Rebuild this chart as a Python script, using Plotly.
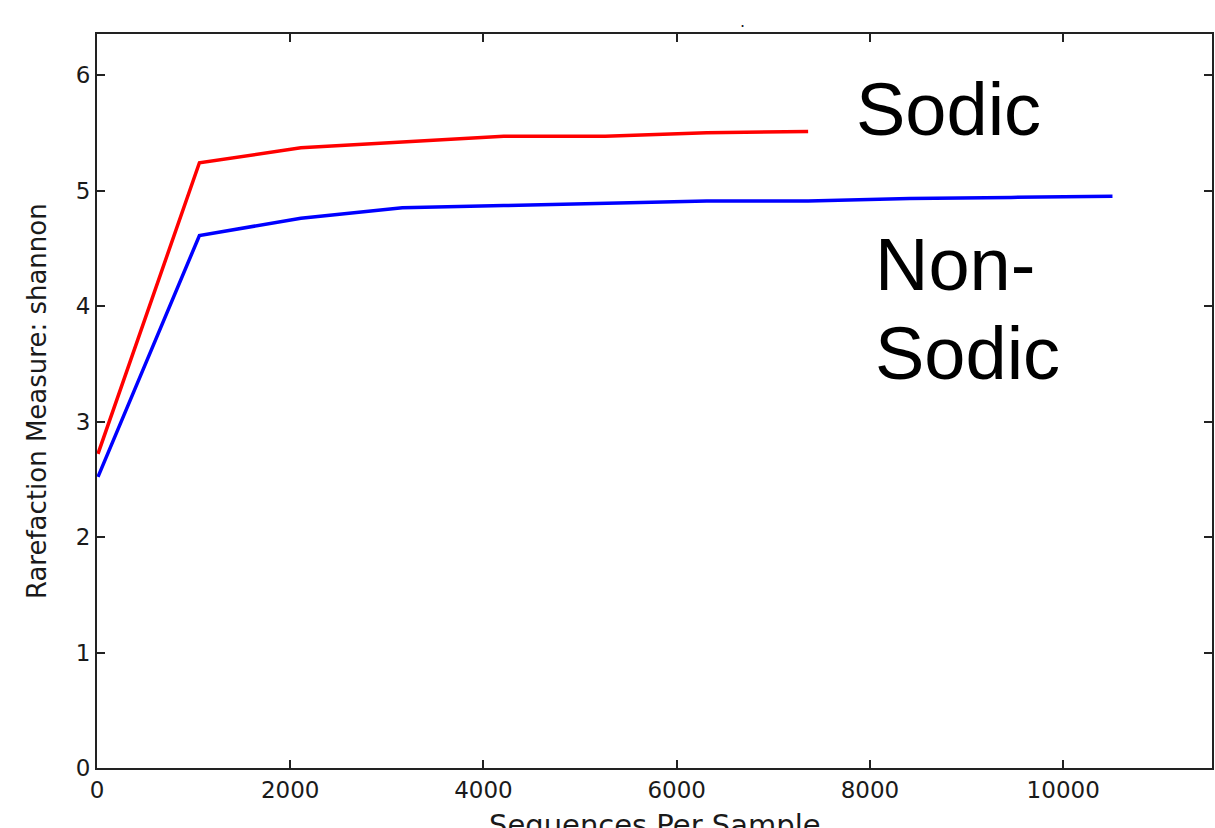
import plotly.graph_objects as go

# Data
seqs_per_sample = [10, 1060, 2110, 3160, 4210, 5260, 6310, 7360, 8410, 9460, 10510]
sodic_shannon = [2.72, 5.24, 5.37, 5.42, 5.47, 5.47, 5.50, 5.51]
non_sodic_shannon = [2.52, 4.61, 4.76, 4.85, 4.87, 4.89, 4.91, 4.91, 4.93, 4.94, 4.95]
x_ticks = [0, 2000, 4000, 6000, 8000, 10000]
y_ticks = [0, 1, 2, 3, 4, 5, 6]

W, H = 1215, 828
L, R, T, B = 97, 1, 34, 60
pw, ph = W - L - R, H - T - B

def px(xp):
    return (xp - L) / pw

def py(yp):
    return 1 - (yp - T) / ph

fig = go.Figure()
fig.add_trace(go.Scatter(x=seqs_per_sample[:len(sodic_shannon)], y=sodic_shannon,
                         mode="lines", line=dict(color="#ff0000", width=3.5),
                         name="Sodic", showlegend=False))
fig.add_trace(go.Scatter(x=seqs_per_sample[:len(non_sodic_shannon)], y=non_sodic_shannon,
                         mode="lines", line=dict(color="#0000ff", width=3.5),
                         name="Non-Sodic", showlegend=False))

axis_common = dict(showgrid=False, zeroline=False, showline=True, linecolor="#222222",
                   linewidth=2, mirror="ticks", ticks="inside", ticklen=8, tickwidth=1.5,
                   tickcolor="#222222",
                   tickfont=dict(family="DejaVu Sans", size=23, color="#1a1a1a"))

fig.update_xaxes(range=[0, 11540], tickvals=x_ticks, ticktext=[str(v) for v in x_ticks],
                 **axis_common)
fig.update_yaxes(range=[0, 6.355], tickvals=y_ticks, ticktext=[str(v) for v in y_ticks],
                 **axis_common)

big = dict(family="Liberation Sans, Arial", size=74, color="#000000")
annos = [
    dict(text="Sodic", x=px(855), y=py(110), xanchor="left", yanchor="middle", font=big),
    dict(text="Non-", x=px(874), y=py(264.5), xanchor="left", yanchor="middle", font=big),
    dict(text="Sodic", x=px(874), y=py(353.5), xanchor="left", yanchor="middle", font=big),
    dict(text="Rarefaction Measure: shannon", x=px(37), y=0.5, textangle=-90,
         xanchor="center", yanchor="middle",
         font=dict(family="DejaVu Sans", size=26, color="#1a1a1a")),
    dict(text="Sequences Per Sample", x=0.5, y=py(824.5), xanchor="center", yanchor="middle",
         font=dict(family="DejaVu Sans", size=29, color="#1a1a1a")),
    dict(text=".", x=px(744), y=py(22), xanchor="center", yanchor="middle",
         font=dict(family="DejaVu Sans", size=16, color="#1a1a1a")),
]
for a in annos:
    a.update(xref="paper", yref="paper", showarrow=False)
fig.update_layout(annotations=annos)

fig.update_layout(width=W, height=H, margin=dict(l=L, r=R, t=T, b=B),
                  paper_bgcolor="white", plot_bgcolor="white")

fig.write_html("out.html", config={"displayModeBar": False},
               post_script="document.body.style.margin='0';document.body.style.overflow='hidden';")
